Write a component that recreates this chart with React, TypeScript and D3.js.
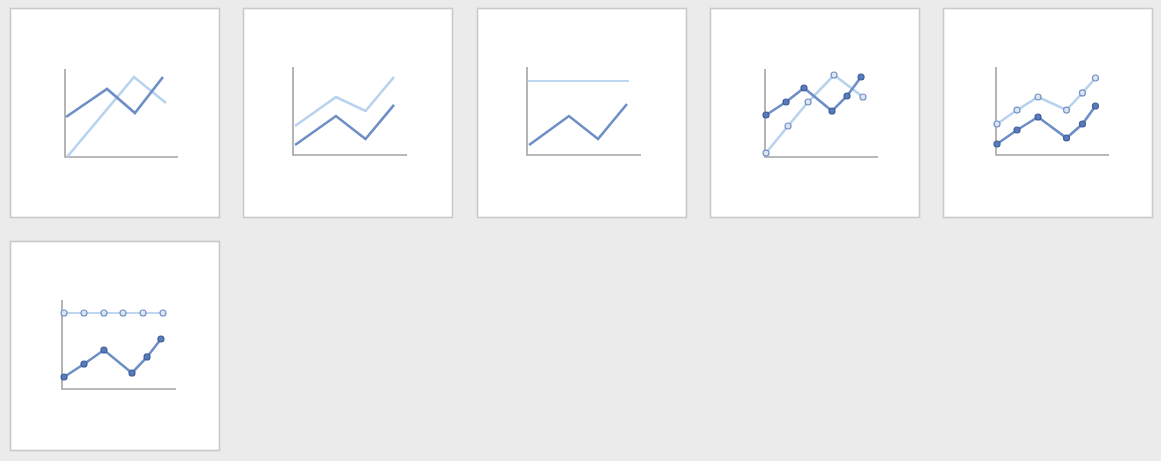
import { useRef, useEffect } from 'react';
import * as d3 from 'd3';

// each tile is a small icon of a line chart type; values in 0..100 of the icon's own axes
const lineX = [0.9, 37.2, 61.9, 86.7];
const lineDark = [45.5, 77.3, 50, 90.9];
const lineLightX = [1.8, 61.1, 89.4];
const lineLight = [0, 90.9, 61.4];

const stackedX = [1.8, 37.7, 63.6, 88.6];
const stackedDark = [11.4, 44.3, 18.2, 57];
const stackedLight = [33, 65.9, 50, 88.6];

const pctX = [1.8, 36.8, 62.3, 87.7];
const pctDark = [11.4, 44.3, 18.2, 58];
const pctLightX = [0, 89.5];
const pctLight = [84.1, 84.1];

const markX = [0.9, 18.6, 34.5, 59.3, 72.6, 85];
const markDark = [47.7, 62.5, 78.4, 52.3, 69.3, 90.9];
const markLightX = [0.9, 20.4, 38.1, 61.1, 86.7];
const markLight = [4.5, 35.2, 62.5, 93.2, 68.2];

const stMarkX = [0.9, 18.6, 37.2, 62.4, 76.5, 88];
const stMarkDark = [12.5, 28.4, 43.2, 19.3, 35.2, 55.7];
const stMarkLight = [35.2, 51.1, 65.9, 51.1, 70.5, 87.5];

const pctMarkX = [1.8, 19.3, 36.8, 53.5, 71.1, 88.6];
const pctMarkDarkX = [1.8, 19.3, 36.8, 61.4, 74.6, 86.8];
const pctMarkDark = [13.5, 28.1, 43.8, 18, 36, 56.2];
const pctMarkLight = [85.4, 85.4, 85.4, 85.4, 85.4, 85.4];

const tiles = [
  { col: 0, row: 0, frame: [55, 168, 61, 149], markers: false,
    series: [
      { x: lineLightX, y: lineLight, kind: 'light' },
      { x: lineX, y: lineDark, kind: 'dark' },
    ] },
  { col: 1, row: 0, frame: [50, 164, 59, 147], markers: false,
    series: [
      { x: stackedX, y: stackedLight, kind: 'light' },
      { x: stackedX, y: stackedDark, kind: 'dark' },
    ] },
  { col: 2, row: 0, frame: [50, 164, 59, 147], markers: false,
    series: [
      { x: pctLightX, y: pctLight, kind: 'lightThin' },
      { x: pctX, y: pctDark, kind: 'dark' },
    ] },
  { col: 3, row: 0, frame: [55, 168, 61, 149], markers: true,
    series: [
      { x: markLightX, y: markLight, kind: 'light' },
      { x: markX, y: markDark, kind: 'dark' },
    ] },
  { col: 4, row: 0, frame: [53, 166, 59, 147], markers: true,
    series: [
      { x: stMarkX, y: stMarkLight, kind: 'light' },
      { x: stMarkX, y: stMarkDark, kind: 'dark' },
    ] },
  { col: 0, row: 1, frame: [52, 166, 59, 148], markers: true,
    series: [
      { x: pctMarkX, y: pctMarkLight, kind: 'lightThin' },
      { x: pctMarkDarkX, y: pctMarkDark, kind: 'dark' },
    ] },
];

const colX = [10, 243, 477, 710, 943];
const rowY = [8, 241];
const tileSize = 209;

const styles = {
  dark: { stroke: '#6e8fc6', width: 2.6, mFill: '#5a7bb9', mStroke: '#3f5f9c' },
  light: { stroke: '#b8d3ee', width: 2.6, mFill: '#dbe5f4', mStroke: '#7593c4' },
  lightThin: { stroke: '#a9c8ea', width: 1.5, mFill: '#dbe5f4', mStroke: '#7593c4' },
};

export default function App() {
  const svgRef = useRef(null);

  useEffect(() => {
    const svg = d3.select(svgRef.current);
    svg.selectAll('*').remove();

    svg.append('rect').attr('width', 1161).attr('height', 461).attr('fill', '#ebebeb');

    tiles.forEach((t) => {
      const g = svg.append('g')
        .attr('transform', 'translate(' + colX[t.col] + ',' + rowY[t.row] + ')');

      g.append('rect')
        .attr('x', 0.5).attr('y', 0.5)
        .attr('width', tileSize).attr('height', tileSize)
        .attr('fill', '#ffffff')
        .attr('stroke', '#c9c9c9')
        .attr('stroke-width', 1.6);

      const [left, right, top, bottom] = t.frame;
      const x = d3.scaleLinear().domain([0, 100]).range([left, right]);
      const y = d3.scaleLinear().domain([0, 100]).range([bottom, top]);

      // axes
      g.append('path')
        .attr('d', 'M' + x(0) + ',' + y(100) + 'V' + y(0) + 'H' + x(100))
        .attr('fill', 'none')
        .attr('stroke', '#a3a3a3')
        .attr('stroke-width', 1.6);

      const line = d3.line().x(d => x(d[0])).y(d => y(d[1]));

      t.series.forEach((s) => {
        const st = styles[s.kind];
        const pts = s.x.map((v, i) => [v, s.y[i]]);
        g.append('path')
          .attr('d', line(pts))
          .attr('fill', 'none')
          .attr('stroke', st.stroke)
          .attr('stroke-width', st.width)
          .attr('stroke-linejoin', 'miter');
      });

      if (t.markers) {
        t.series.forEach((s) => {
          const st = styles[s.kind];
          s.x.forEach((v, i) => {
            g.append('circle')
              .attr('cx', x(v)).attr('cy', y(s.y[i]))
              .attr('r', 3)
              .attr('fill', st.mFill)
              .attr('stroke', st.mStroke)
              .attr('stroke-width', 1.2);
          });
        });
      }
    });
  }, []);

  return (
    <svg ref={svgRef} width={1161} height={461}
      style={{ position: 'absolute', left: 0, top: 0, display: 'block' }} />
  );
}
